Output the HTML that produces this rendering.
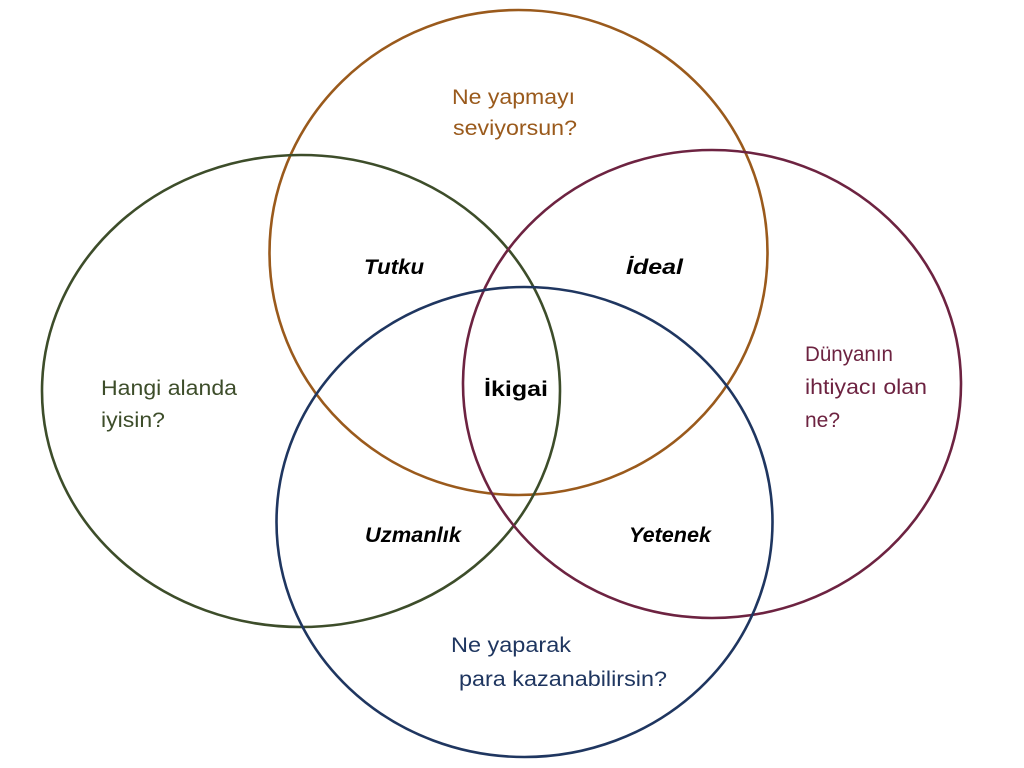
<!DOCTYPE html>
<html><head><meta charset="utf-8"><style>
html,body{margin:0;padding:0;background:#fff;}
svg{display:block}
text{font-family:"Liberation Sans",sans-serif;font-size:21px;}
</style></head><body>
<svg width="1024" height="768" viewBox="0 0 1024 768">
<g fill="none" stroke-width="2.6">
<ellipse cx="518.5" cy="252.5" rx="249" ry="242.5" stroke="#9a5a1c"/>
<ellipse cx="301" cy="391" rx="259" ry="236" stroke="#3d4d2a"/>
<ellipse cx="712" cy="384" rx="249" ry="234" stroke="#6d2341"/>
<ellipse cx="524.5" cy="522" rx="248" ry="235" stroke="#1f3660"/>
</g>
<g fill="#9a5a1c"><text x="452" y="104" textLength="123" lengthAdjust="spacingAndGlyphs">Ne yapmayı</text><text x="453" y="135" textLength="124" lengthAdjust="spacingAndGlyphs">seviyorsun?</text></g>
<g fill="#3d4d2a"><text x="101" y="395" textLength="136" lengthAdjust="spacingAndGlyphs">Hangi alanda</text><text x="101" y="427" textLength="64" lengthAdjust="spacingAndGlyphs">iyisin?</text></g>
<g fill="#6d2341"><text x="805" y="361" textLength="88" lengthAdjust="spacingAndGlyphs">Dünyanın</text><text x="805" y="394" textLength="122" lengthAdjust="spacingAndGlyphs">ihtiyacı olan</text><text x="805" y="427" textLength="35" lengthAdjust="spacingAndGlyphs">ne?</text></g>
<g fill="#1f3660"><text x="451" y="652" textLength="120" lengthAdjust="spacingAndGlyphs">Ne yaparak</text><text x="459" y="686" textLength="208" lengthAdjust="spacingAndGlyphs">para kazanabilirsin?</text></g>
<g fill="#000">
<text x="364" y="274" textLength="60" lengthAdjust="spacingAndGlyphs" font-style="italic" font-weight="bold">Tutku</text>
<text x="626" y="274" textLength="57" lengthAdjust="spacingAndGlyphs" font-style="italic" font-weight="bold">İdeal</text>
<text x="365" y="542" textLength="96" lengthAdjust="spacingAndGlyphs" font-style="italic" font-weight="bold">Uzmanlık</text>
<text x="629" y="542" textLength="82" lengthAdjust="spacingAndGlyphs" font-style="italic" font-weight="bold">Yetenek</text>
<text x="484" y="396" textLength="64" lengthAdjust="spacingAndGlyphs" font-style="normal" font-weight="bold" font-size="22">İkigai</text>
</g>
</svg>
</body></html>
